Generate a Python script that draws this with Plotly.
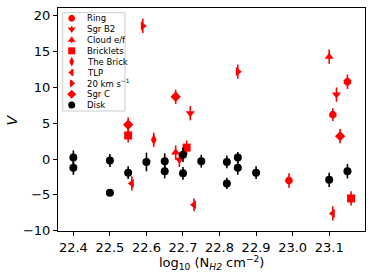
import plotly.graph_objects as go

# ---- data ----
ring_x = [23.15, 23.11, 22.99]
ring_y = [10.8, 6.2, -3.0]
ring_e = [1.0, 0.9, 1.0]

sgrb2_x = [22.72, 23.12, 22.69]
sgrb2_y = [6.4, 9.0, -0.1]
sgrb2_e = [1.0, 1.0, 1.0]

cloud_x = [23.10, 22.68]
cloud_y = [14.3, 0.9]
cloud_e = [1.0, 1.0]

bricklets_x = [22.55, 22.71, 23.16]
bricklets_y = [3.3, 1.6, -5.5]
bricklets_e = [1.0, 1.0, 1.0]

brick_x = [22.62]
brick_y = [2.7]
brick_e = [1.0]

tlp_x = [22.56, 22.73, 23.11]
tlp_y = [-3.4, -6.4, -7.6]
tlp_e = [1.0, 0.9, 1.0]

kms20_x = [22.59, 22.85]
kms20_y = [18.6, 12.2]
kms20_e = [1.0, 1.0]

sgrc_x = [22.55, 22.68, 23.13]
sgrc_y = [4.8, 8.7, 3.2]
sgrc_e = [1.0, 1.0, 1.0]

disk_x = [22.40, 22.40, 22.50, 22.50, 22.55, 22.60, 22.65, 22.65, 22.70,
          22.70, 22.75, 22.82, 22.82, 22.85, 22.85, 22.90, 23.10, 23.15]
disk_y = [0.2, -1.2, -0.2, -4.7, -1.9, -0.4, -0.3, -1.7, 0.6,
          -2.0, -0.3, -0.4, -3.4, 0.2, -1.2, -1.9, -2.9, -1.7]
disk_e = [1.0, 1.0, 0.9, 0.3, 0.9, 1.3, 1.1, 1.0, 1.0,
          0.9, 0.9, 0.9, 0.8, 0.8, 1.0, 0.9, 1.0, 1.0]

x_ticks = [22.4, 22.5, 22.6, 22.7, 22.8, 22.9, 23.0, 23.1]
y_ticks = [-10, -5, 0, 5, 10, 15, 20]

x_title = "log<sub>10</sub> (N<sub><i>H2</i></sub> cm<sup>−2</sup>)"
y_title = "<i>V</i>"

series = [
    ("Ring", ring_x, ring_y, ring_e, "octagon", "#ff0000"),
    ("Sgr B2", sgrb2_x, sgrb2_y, sgrb2_e, "triangle-down", "#ff0000"),
    ("Cloud e/f", cloud_x, cloud_y, cloud_e, "triangle-up", "#ff0000"),
    ("Bricklets", bricklets_x, bricklets_y, bricklets_e, "square", "#ff0000"),
    ("The Brick", brick_x, brick_y, brick_e, "diamond-tall", "#ff0000"),
    ("TLP", tlp_x, tlp_y, tlp_e, "triangle-left", "#ff0000"),
    ("20 km s<sup>−1</sup>", kms20_x, kms20_y, kms20_e, "triangle-right", "#ff0000"),
    ("Sgr C", sgrc_x, sgrc_y, sgrc_e, "diamond", "#ff0000"),
    ("Disk", disk_x, disk_y, disk_e, "circle", "#000000"),
]

FONT = "DejaVu Sans"
fig = go.Figure()

for name, xs, ys, es, sym, col in series:
    fig.add_trace(go.Scatter(
        x=xs, y=ys, mode="markers", name=name, showlegend=False,
        marker=dict(symbol=sym, size=8, color=col, line=dict(width=0)),
        error_y=dict(type="data", array=es, visible=True, color=col,
                     thickness=1.6, width=0),
    ))

# ---- hand-made legend (plotly's legend rows are too tall) ----
# overlay axes measured in pixels of the plot area (307 x 223)
leg_top = 212.7
leg_step = 10.84
for i, (name, xs, ys, es, sym, col) in enumerate(series):
    yy = leg_top - i * leg_step
    fig.add_trace(go.Scatter(
        x=[13.7], y=[yy], xaxis="x2", yaxis="y2", mode="markers",
        showlegend=False, hoverinfo="skip",
        marker=dict(symbol=sym, size=7, color=col, line=dict(width=0)),
        error_y=dict(type="constant", value=3.0, visible=True, color=col,
                     thickness=1.4, width=0),
    ))
    fig.add_annotation(x=27, y=yy, xref="x2", yref="y2", text=name,
                       showarrow=False, xanchor="left", yanchor="middle",
                       font=dict(family=FONT, size=8.5, color="#000"))

fig.add_shape(type="rect", xref="x2", yref="y2", x0=4.7, x1=67, y0=120, y1=218.3,
              line=dict(color="#cccccc", width=1), fillcolor="rgba(255,255,255,0.8)",
              layer="below")

# axis titles as annotations for exact placement
fig.add_annotation(x=0.5, y=-0.145, xref="paper", yref="paper", text=x_title,
                   showarrow=False, xanchor="center", yanchor="middle",
                   font=dict(family=FONT, size=13, color="#000"))
fig.add_annotation(x=-0.15, y=0.5, xref="paper", yref="paper", text=y_title,
                   showarrow=False, xanchor="center", yanchor="middle", textangle=-90,
                   font=dict(family=FONT, size=14, color="#000"))

fig.update_layout(
    width=374, height=280,
    margin=dict(l=58, r=9, t=8, b=49),
    paper_bgcolor="white", plot_bgcolor="white",
    font=dict(family=FONT, size=13, color="#000"),
    hovermode=False,
    xaxis=dict(range=[22.358, 23.198], tickvals=x_ticks,
               ticktext=[f"{v:.1f}" for v in x_ticks], automargin=False,
               showgrid=False, zeroline=False, showline=True, mirror=True,
               linecolor="#000", linewidth=1, ticks="outside", ticklen=4,
               tickcolor="#000"),
    yaxis=dict(range=[-10.05, 21.1], tickvals=y_ticks,
               ticktext=[("−" + str(-v)) if v < 0 else str(v) for v in y_ticks],
               automargin=False,
               showgrid=False, zeroline=False, showline=True, mirror=True,
               linecolor="#000", linewidth=1, ticks="outside", ticklen=4,
               tickcolor="#000"),
    xaxis2=dict(range=[0, 307], overlaying="x", visible=False, fixedrange=True,
                automargin=False),
    yaxis2=dict(range=[0, 223], overlaying="y", visible=False, fixedrange=True,
                automargin=False),
)

fig.write_html("out.html", config={"displayModeBar": False},
               post_script="document.body.style.margin='0';")
